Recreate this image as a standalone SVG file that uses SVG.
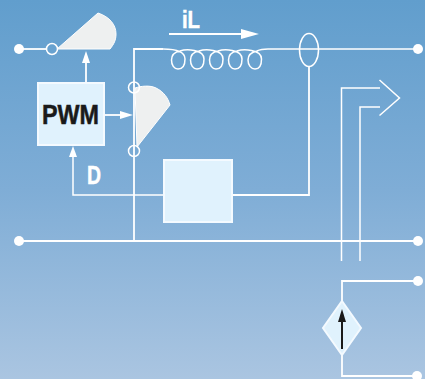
<svg xmlns="http://www.w3.org/2000/svg" width="425" height="379" viewBox="0 0 425 379">
<style>
.w{fill:none;stroke:#fff;stroke-width:1.800}
.c{fill:none;stroke:#fff;stroke-width:1.500}
.t{fill:none;stroke:#fff;stroke-width:1.500}
.dot{fill:#fff}
.box{fill:#e0f2fd;stroke:#f4faff;stroke-width:2}
.wedge{fill:#eef0f0;stroke:#fff;stroke-width:1}
.ring{fill:none;stroke:#fff;stroke-width:1.500}
.lbl{font-family:"Liberation Sans",Arial,sans-serif;font-weight:700;fill:#fff;stroke:#fff;stroke-width:.5}
</style>
<defs>
<linearGradient id="bg" x1="0" y1="0" x2="0" y2="1">
<stop offset="0" stop-color="#619ecd"/>
<stop offset="0.5" stop-color="#7fadd6"/>
<stop offset="1" stop-color="#aac5e1"/>
</linearGradient>
</defs>
<rect id="background" width="425" height="379" fill="url(#bg)"/>
<g id="connectors">
<path class="w" d="M19 241H418"/>
<path class="w" d="M134 241V49H163"/>
<path class="c" d="M163 49C172 49 185 50 185 59C185 66 182 69 178 69C174 69 171.500 65 171.500 60C171.500 55 175 52 180 51C186 49 204 49 204 59C204 66 201 69 197 69C193 69 190.500 65 190.500 60C190.500 55 194 52 199 51C205 49 223 49 223 59C223 66 220 69 216 69C212 69 209.500 65 209.500 60C209.500 55 213 52 218 51C224 49 242 49 242 59C242 66 239 69 235 69C231 69 228.500 65 228.500 60C228.500 55 232 52 237 51C243 49 261.500 49 261.500 59C261.500 66 259 69 255 69C251 69 248 65 248 60C248 55 252 52 257 51C259 50 262 49 268 49H418"/>
<path class="w" d="M19 49H47"/>
<path class="w" d="M86 83V60"/>
<path fill="#fff" d="M86 51L90 63H82Z"/>
<path class="w" d="M105 115H122"/>
<path fill="#fff" d="M133 115L120 111V119Z"/>
<path class="c" d="M164 195H73V156"/>
<path fill="#fff" d="M73 146L77 157H69Z"/>
<path class="w" d="M232 195H309V66"/>
<path class="w" d="M169 34H243"/>
<path fill="#fff" d="M259 34L241 29V39Z"/>
<path class="t" d="M341.500 261V88H380M379.500 80L399.500 98L379.500 115.500M380 107H360V261"/>
<path class="w" d="M418 281H342V301M342 355V376H418"/>
</g>
<g id="terminals">
<circle class="dot" cx="19" cy="49" r="5"/>
<circle class="dot" cx="418" cy="49" r="5"/>
<circle class="dot" cx="19" cy="241" r="5"/>
<circle class="dot" cx="418" cy="241" r="5"/>
<circle class="dot" cx="418" cy="281" r="5"/>
<circle class="dot" cx="417" cy="376" r="5"/>
</g>
<g id="switch-top">
<path class="wedge" d="M57 49L98 13C110 17 116 25 116 34C116 40 114 44 110 49Z"/>
<circle class="ring" cx="52" cy="49" r="5.500"/>
</g>
<g id="switch-bottom">
<path class="wedge" d="M135 88C141 86 150 85 156 88C164 92 168 98 170 105L137 147Z"/>
<circle class="ring" cx="134" cy="87.500" r="5.500"/>
<circle class="ring" cx="134" cy="151" r="5.500"/>
</g>
<g id="pwm">
<rect class="box" x="38" y="83" width="66" height="62"/>
<text x="42" y="124" font-family="Liberation Sans, Arial, sans-serif" font-weight="700" font-size="27" fill="#1a1a1a" stroke="#1a1a1a" stroke-width=".5" textLength="57" lengthAdjust="spacingAndGlyphs">PWM</text>
</g>
<g id="block">
<rect class="box" x="164" y="160" width="68" height="62"/>
</g>
<g id="current-sensor">
<ellipse class="ring" cx="309" cy="50" rx="9.500" ry="16.500"/>
</g>
<g id="source">
<path fill="#e0f2fd" stroke="#f4faff" stroke-width="2" d="M342 301L361 328L342 355L323 328Z"/>
<path fill="none" stroke="#1a1a1a" stroke-width="2" d="M342 349V318"/>
<path fill="#1a1a1a" d="M342 309L346 322H338Z"/>
</g>
<g id="labels">
<text class="lbl" x="182" y="28" font-size="23" textLength="18" lengthAdjust="spacingAndGlyphs">iL</text>
<text class="lbl" x="87" y="184" font-size="25" textLength="14" lengthAdjust="spacingAndGlyphs">D</text>
</g>
</svg>
